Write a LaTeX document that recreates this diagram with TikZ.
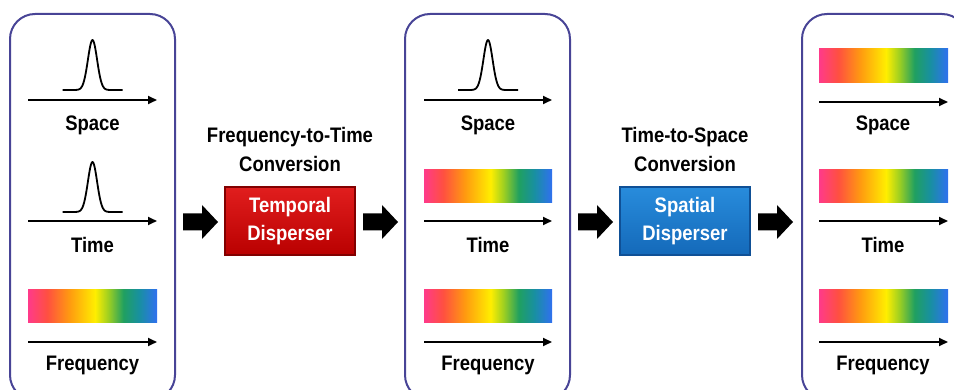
\documentclass[tikz,border=0pt]{standalone}
\usepackage{fontspec}
\setmainfont{Liberation Sans}[FakeStretch=0.88]
\usetikzlibrary{arrows.meta}
\definecolor{rbA}{RGB}{255,58,138}
\definecolor{rbB}{RGB}{255,80,64}
\definecolor{rbC}{RGB}{255,154,16}
\definecolor{rbD}{RGB}{255,238,0}
\definecolor{rbE}{RGB}{160,208,32}
\definecolor{rbF}{RGB}{32,160,96}
\definecolor{rbG}{RGB}{24,144,160}
\definecolor{rbH}{RGB}{48,112,240}
\definecolor{panelc}{RGB}{72,68,150}
\definecolor{redtop}{RGB}{225,30,30}
\definecolor{redbot}{RGB}{185,0,0}
\definecolor{redbd}{RGB}{130,0,0}
\definecolor{bluetop}{RGB}{40,140,220}
\definecolor{bluebot}{RGB}{20,105,185}
\definecolor{bluebd}{RGB}{15,80,150}
\pgfdeclarehorizontalshading{rainbow}{100bp}{color(0bp)=(rbA); color(25bp)=(rbA); color(32.5bp)=(rbB); color(41bp)=(rbC); color(51bp)=(rbD); color(56bp)=(rbE); color(62bp)=(rbF); color(68bp)=(rbG); color(75bp)=(rbH); color(100bp)=(rbH)}
\tikzset{
  panel/.style={draw=panelc, line width=2pt, rounded corners=25pt},
  axis/.style={line width=1.8pt, -{Triangle[length=9pt,width=8pt]}},
  pulse/.style={line width=1.8pt, line join=round},
  lbl/.style={font=\fontsize{21}{24}\selectfont\bfseries, text=black, inner sep=0pt},
  bar/.style={shading=rainbow, draw=none},
  blockarrow/.style={fill=black, draw=none},
  disp/.style={minimum width=130pt, minimum height=68pt, line width=1.2pt, font=\fontsize{21}{24}\selectfont\bfseries, text=white, align=center, inner sep=0pt},
}
\newcommand{\blockarr}[2]{\fill[blockarrow] (#1,#2-8.5) -- ++(19,0) -- ++(0,-8.5) -- (#1+35,#2) -- (#1+19,#2+17) -- ++(0,-8.5) -- (#1,#2+8.5) -- cycle;}
\begin{document}
\begin{tikzpicture}[x=1pt,y=-1pt]
\useasboundingbox (0,0) rectangle (954,390);
\clip (0,0) rectangle (954,390);
% panels
\draw[panel] (10,14) rectangle (175,400);
\draw[panel] (405,14) rectangle (570,400);
\draw[panel] (802,14) rectangle (967,400);
% ---- panel 1
\coordinate (a1s) at (28,100); \coordinate (a1e) at (157,100);
\draw[axis] (a1s) -- (a1e);
\draw[pulse] plot[domain=-30:30, samples=90] ({92.5+\x}, {90-50*exp(-(\x/6.5)^2)});
\node[lbl] (p1space) at (92.5,125) {Space};
\coordinate (a1ts) at (28,221); \coordinate (a1te) at (157,221);
\draw[axis] (a1ts) -- (a1te);
\draw[pulse] plot[domain=-30:30, samples=90] ({92.5+\x}, {212-50*exp(-(\x/6.5)^2)});
\node[lbl] (p1time) at (92.5,245) {Time};
\fill[bar] (28,290) rectangle (157,323);
\coordinate (a1fs) at (28,342); \coordinate (a1fe) at (157,342);
\draw[axis] (a1fs) -- (a1fe);
\node[lbl] (p1freq) at (92.5,365) {Frequency};
% ---- panel 2
\coordinate (a2s) at (424,100); \coordinate (a2e) at (552,100);
\draw[axis] (a2s) -- (a2e);
\draw[pulse] plot[domain=-30:30, samples=90] ({488+\x}, {90-50*exp(-(\x/6.5)^2)});
\node[lbl] (p2space) at (488,125) {Space};
\fill[bar] (424,170) rectangle (552,203);
\coordinate (a2ts) at (424,221); \coordinate (a2te) at (552,221);
\draw[axis] (a2ts) -- (a2te);
\node[lbl] (p2time) at (488,245) {Time};
\fill[bar] (424,290) rectangle (552,323);
\coordinate (a2fs) at (424,342); \coordinate (a2fe) at (552,342);
\draw[axis] (a2fs) -- (a2fe);
\node[lbl] (p2freq) at (488,365) {Frequency};
% ---- panel 3
\fill[bar] (819,49) rectangle (948,83);
\coordinate (a3s) at (819,102); \coordinate (a3e) at (948,102);
\draw[axis] (a3s) -- (a3e);
\node[lbl] (p3space) at (883,125) {Space};
\fill[bar] (819,170) rectangle (948,203);
\coordinate (a3ts) at (819,221); \coordinate (a3te) at (948,221);
\draw[axis] (a3ts) -- (a3te);
\node[lbl] (p3time) at (883,245) {Time};
\fill[bar] (819,290) rectangle (948,323);
\coordinate (a3fs) at (819,342); \coordinate (a3fe) at (948,342);
\draw[axis] (a3fs) -- (a3fe);
\node[lbl] (p3freq) at (883,365) {Frequency};
% ---- dispersers
\node[lbl] (ft1) at (290,137) {Frequency-to-Time};
\node[lbl] (ft2) at (290,164) {Conversion};
\node[disp, draw=redbd, top color=redtop, bottom color=redbot] (temporal) at (290,221) {Temporal\\[4pt]Disperser};
\node[lbl] (ts1) at (685,137) {Time-to-Space};
\node[lbl] (ts2) at (685,164) {Conversion};
\node[disp, draw=bluebd, top color=bluetop, bottom color=bluebot] (spatial) at (685,221) {Spatial\\[4pt]Disperser};
% ---- block arrows
\blockarr{183}{222}
\blockarr{363}{222}
\blockarr{578}{222}
\blockarr{758}{222}
\end{tikzpicture}
\end{document}
